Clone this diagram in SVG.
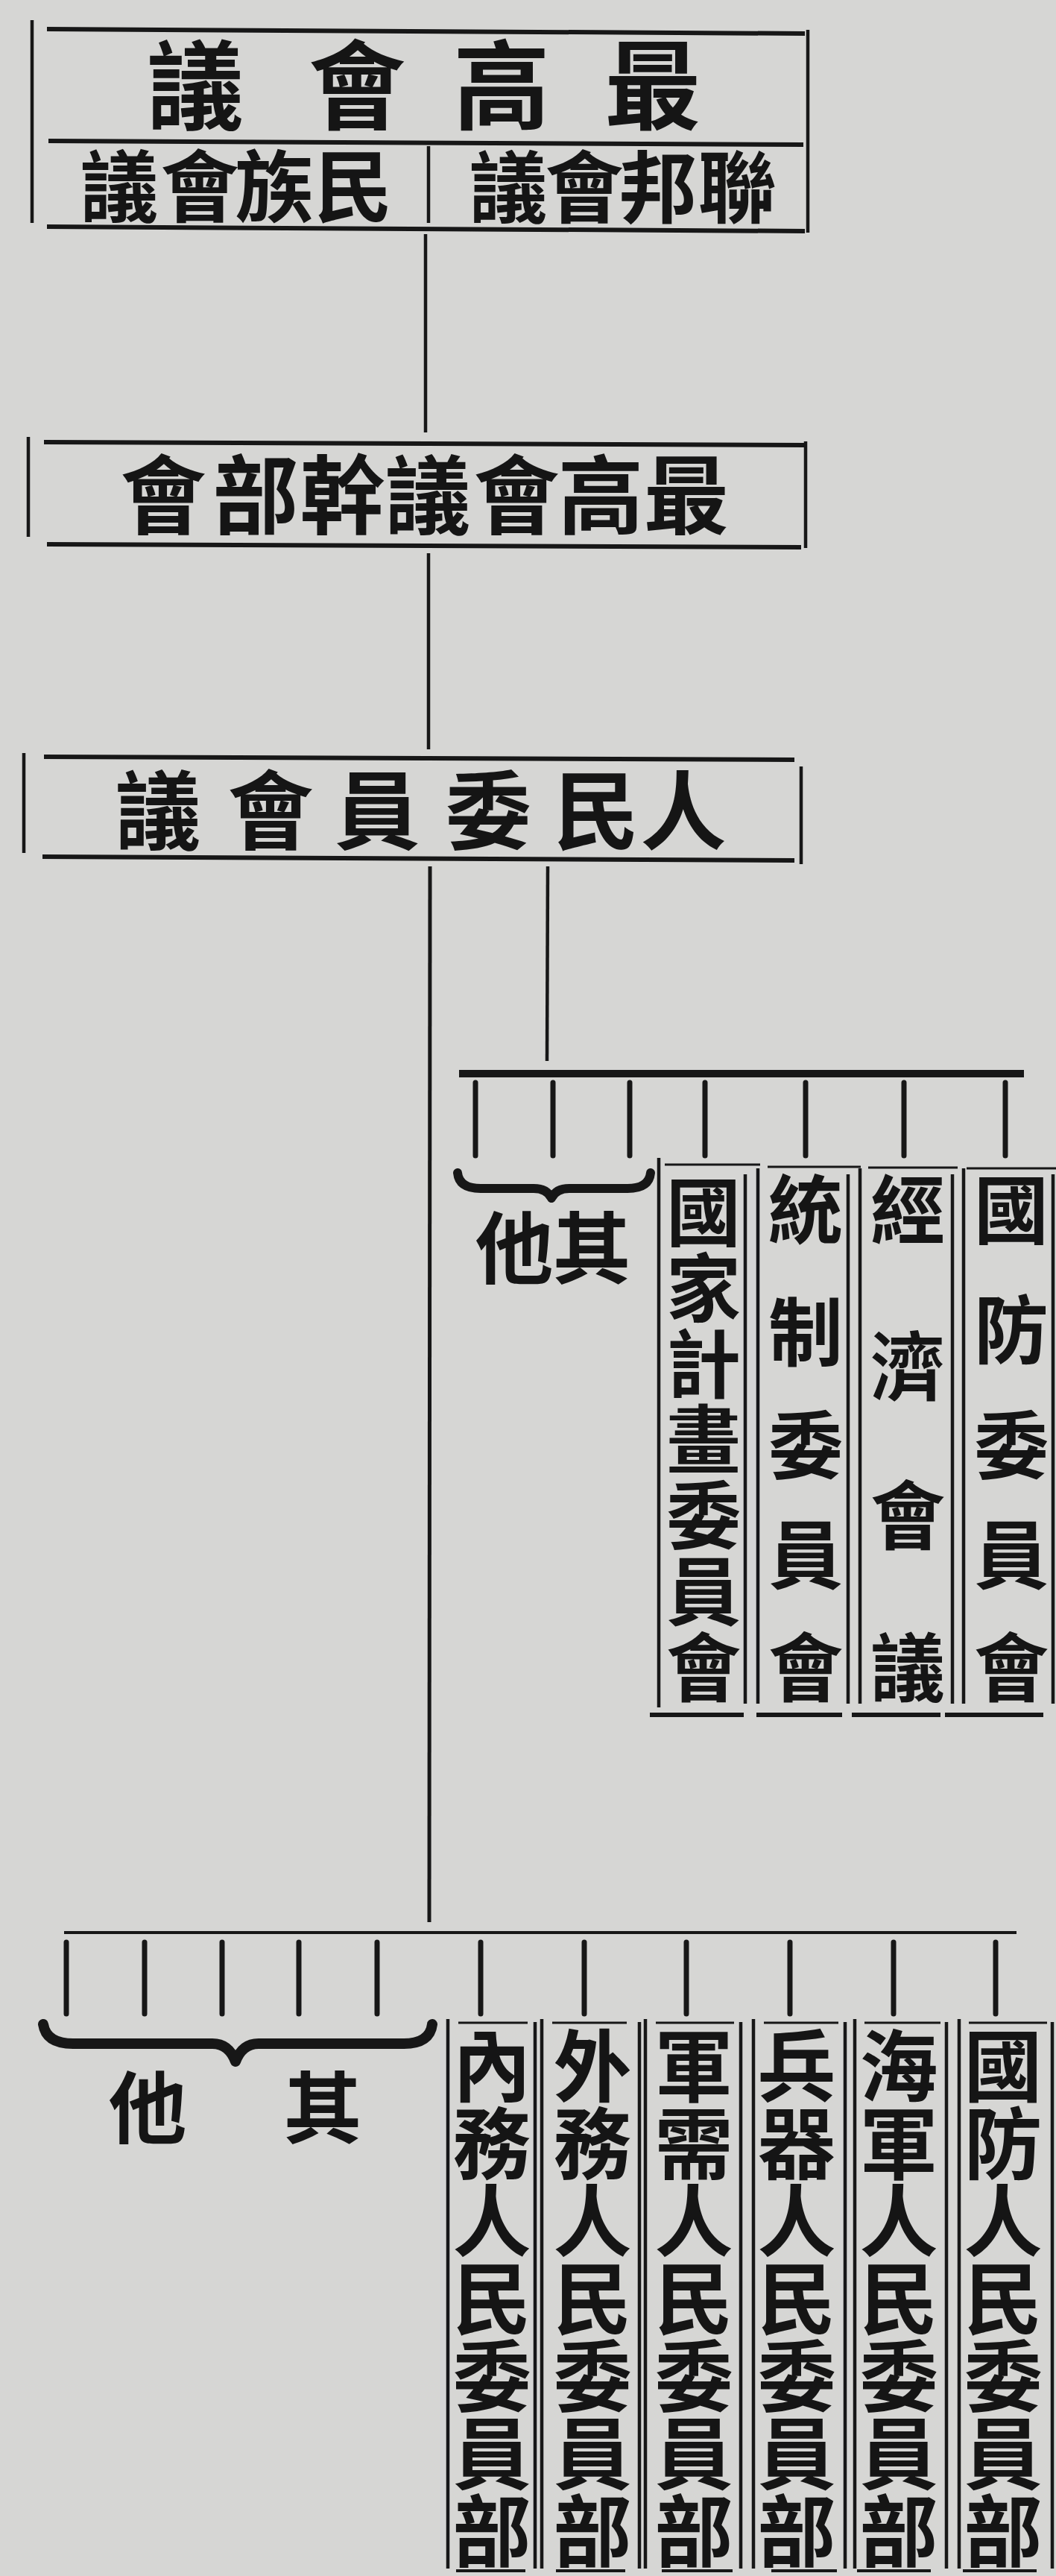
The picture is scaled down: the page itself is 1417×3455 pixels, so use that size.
<svg xmlns="http://www.w3.org/2000/svg" width="1417" height="3455" viewBox="0 0 1417 3455">
<style>
  .bg { fill: #d6d6d4; }
  .ln { stroke: #171717; fill: none; stroke-linecap: butt; }
  .h { stroke-width: 6; }
  .v { stroke-width: 4.5; }
  .thin { stroke-width: 3; }
  .tick { stroke: #171717; stroke-width: 7; stroke-linecap: round; fill: none; }
  .brace { stroke: #171717; fill: none; stroke-linecap: round; stroke-linejoin: round; }
  text { font-family: "Liberation Sans", "Noto Sans CJK TC", "Noto Sans CJK JP", sans-serif; font-weight: 700; fill: #151515; text-anchor: middle; }
  .t130 { font-size: 130px; }
  .t115 { font-size: 115px; }
  .t105 { font-size: 105px; }
  .t100 { font-size: 100px; }
</style>
<rect class="bg" x="0" y="0" width="1417" height="3455"/>

<g id="connectors">
  <line class="ln v" x1="571" y1="314" x2="571" y2="580"/>
  <line class="ln v" x1="575" y1="742" x2="575" y2="1005"/>
  <line class="ln" stroke-width="5" x1="577" y1="1162" x2="576" y2="2578"/>
  <line class="ln v" x1="735" y1="1162" x2="734" y2="1423"/>
  <!-- upper distribution bar -->
  <line class="ln" stroke-width="10" stroke-linecap="round" x1="616" y1="1440" x2="1374" y2="1440"/>
  <g>
    <line class="tick" x1="638" y1="1452" x2="638" y2="1550"/>
    <line class="tick" x1="742" y1="1452" x2="742" y2="1550"/>
    <line class="tick" x1="845" y1="1452" x2="845" y2="1550"/>
    <line class="tick" x1="946" y1="1452" x2="946" y2="1550"/>
    <line class="tick" x1="1081" y1="1452" x2="1081" y2="1550"/>
    <line class="tick" x1="1213" y1="1452" x2="1213" y2="1550"/>
    <line class="tick" x1="1349" y1="1452" x2="1349" y2="1550"/>
  </g>
  <!-- lower distribution bar -->
  <line class="ln" stroke-width="4" x1="86" y1="2592" x2="1364" y2="2592"/>
  <g>
    <line class="tick" x1="89" y1="2605" x2="89" y2="2701"/>
    <line class="tick" x1="194" y1="2605" x2="194" y2="2701"/>
    <line class="tick" x1="298" y1="2605" x2="298" y2="2701"/>
    <line class="tick" x1="401" y1="2605" x2="401" y2="2701"/>
    <line class="tick" x1="506" y1="2605" x2="506" y2="2701"/>
    <line class="tick" x1="645" y1="2605" x2="645" y2="2701"/>
    <line class="tick" x1="784" y1="2605" x2="784" y2="2701"/>
    <line class="tick" x1="921" y1="2605" x2="921" y2="2701"/>
    <line class="tick" x1="1060" y1="2605" x2="1060" y2="2701"/>
    <line class="tick" x1="1199" y1="2605" x2="1199" y2="2701"/>
    <line class="tick" x1="1336" y1="2605" x2="1336" y2="2701"/>
  </g>
</g>

<g id="supreme-council">
  <line class="ln v" x1="43" y1="27" x2="43" y2="299"/>
  <line class="ln h" x1="63" y1="39" x2="1080" y2="45"/>
  <line class="ln h" x1="65" y1="189" x2="1078" y2="194"/>
  <line class="ln h" x1="63" y1="304" x2="1080" y2="310"/>
  <line class="ln v" x1="1084" y1="40" x2="1084" y2="312"/>
  <line class="ln v" x1="575" y1="196" x2="575" y2="299"/>
  <text class="t130" x="262 479 673 876" y="163">議會高最</text>
  <g id="nationalities-council">
    <text class="t105" x="160 268 368 474" y="289">議會族民</text>
  </g>
  <g id="union-council">
    <text class="t105" x="682 784 883 989" y="290">議會邦聯</text>
  </g>
</g>

<g id="presidium">
  <line class="ln v" x1="38" y1="586" x2="38" y2="720"/>
  <line class="ln h" x1="59" y1="593" x2="1080" y2="597"/>
  <line class="ln h" x1="63" y1="730" x2="1075" y2="734"/>
  <line class="ln v" x1="1081" y1="592" x2="1081" y2="735"/>
  <text class="t115" x="219 343 460 574 693 806 921" y="707">會部幹議會高最</text>
</g>

<g id="council-of-peoples-commissars">
  <line class="ln v" x1="32" y1="1010" x2="32" y2="1144"/>
  <line class="ln h" x1="59" y1="1015" x2="1066" y2="1019"/>
  <line class="ln h" x1="57" y1="1149" x2="1066" y2="1154"/>
  <line class="ln v" x1="1075" y1="1028" x2="1075" y2="1159"/>
  <text class="t115" x="212 363 506 655 800 917" y="1130">議會員委民人</text>
</g>

<g id="upper-others">
  <path class="brace" stroke-width="12" d="M614,1573 Q616,1594 645,1594 L716,1594 Q734,1594 740,1607 Q746,1594 764,1594 L842,1594 Q871,1594 873,1573"/>
  <text class="t105" x="690 794" y="1713">他其</text>
</g>

<g id="state-planning-commission">
  <line class="ln v" x1="884" y1="1553" x2="884" y2="2290"/>
  <line class="ln v" x1="1000" y1="1575" x2="1000" y2="2285"/>
  <line class="ln thin" x1="892" y1="1562" x2="1020" y2="1562"/>
  <line class="ln h" x1="872" y1="2300" x2="998" y2="2300"/>
  <text class="t100" x="944 944 944 944 944 944 944" y="1663 1765 1867 1968 2070 2172 2274">國家計畫委員會</text>
</g>

<g id="control-commission">
  <line class="ln v" x1="1017" y1="1567" x2="1017" y2="2285"/>
  <line class="ln v" x1="1138" y1="1575" x2="1138" y2="2285"/>
  <line class="ln thin" x1="1030" y1="1565" x2="1155" y2="1565"/>
  <line class="ln h" x1="1015" y1="2300" x2="1130" y2="2300"/>
  <text class="t100" x="1081 1081 1081 1081 1081" y="1660 1824 1976 2123 2274">統制委員會</text>
</g>

<g id="economic-council">
  <line class="ln v" x1="1154" y1="1567" x2="1154" y2="2285"/>
  <line class="ln v" x1="1278" y1="1575" x2="1278" y2="2285"/>
  <line class="ln thin" x1="1165" y1="1566" x2="1285" y2="1566"/>
  <line class="ln h" x1="1143" y1="2300" x2="1262" y2="2300"/>
  <text class="t100" x="1218 1218 1218 1218" y="1660 1870 2070 2274">經濟會議</text>
</g>

<g id="defence-committee">
  <line class="ln v" x1="1293" y1="1567" x2="1293" y2="2285"/>
  <line class="ln v" x1="1413" y1="1575" x2="1413" y2="2285"/>
  <line class="ln thin" x1="1297" y1="1567" x2="1417" y2="1567"/>
  <line class="ln h" x1="1268" y1="2300" x2="1400" y2="2300"/>
  <text class="t100" x="1357 1357 1357 1357 1357" y="1660 1821 1976 2123 2274">國防委員會</text>
</g>

<g id="lower-others">
  <path class="brace" stroke-width="14" d="M58,2715 Q62,2741 98,2741 L285,2741 Q307,2741 316,2765 Q325,2741 347,2741 L542,2741 Q577,2741 580,2715"/>
  <text class="t105" x="198 433" y="2866">他其</text>
</g>

<g id="internal-affairs">
  <line class="ln v" x1="601" y1="2708" x2="601" y2="3445"/>
  <line class="ln v" x1="718" y1="2712" x2="718" y2="3445"/>
  <line class="ln thin" x1="615" y1="2713" x2="708" y2="2713"/>
  <line class="ln" stroke-width="4" x1="612" y1="3448" x2="705" y2="3448"/>
  <text class="t105" x="660 660 660 660 660 660 660" y="2810 2914 3018 3122 3226 3330 3434">內務人民委員部</text>
</g>

<g id="foreign-affairs">
  <line class="ln v" x1="727" y1="2708" x2="727" y2="3445"/>
  <line class="ln v" x1="858" y1="2712" x2="858" y2="3445"/>
  <line class="ln thin" x1="741" y1="2713" x2="841" y2="2713"/>
  <line class="ln" stroke-width="4" x1="746" y1="3448" x2="839" y2="3448"/>
  <text class="t105" x="795 795 795 795 795 795 795" y="2810 2914 3018 3122 3226 3330 3434">外務人民委員部</text>
</g>

<g id="munitions">
  <line class="ln v" x1="866" y1="2708" x2="866" y2="3445"/>
  <line class="ln v" x1="994" y1="2712" x2="994" y2="3445"/>
  <line class="ln thin" x1="880" y1="2713" x2="985" y2="2713"/>
  <line class="ln" stroke-width="4" x1="888" y1="3448" x2="983" y2="3448"/>
  <text class="t105" x="931 931 931 931 931 931 931" y="2810 2914 3018 3122 3226 3330 3434">軍需人民委員部</text>
</g>

<g id="armaments">
  <line class="ln v" x1="1011" y1="2708" x2="1011" y2="3445"/>
  <line class="ln v" x1="1134" y1="2712" x2="1134" y2="3445"/>
  <line class="ln thin" x1="1025" y1="2713" x2="1125" y2="2713"/>
  <line class="ln" stroke-width="4" x1="1035" y1="3448" x2="1123" y2="3448"/>
  <text class="t105" x="1069 1069 1069 1069 1069 1069 1069" y="2810 2914 3018 3122 3226 3330 3434">兵器人民委員部</text>
</g>

<g id="navy">
  <line class="ln v" x1="1147" y1="2708" x2="1147" y2="3445"/>
  <line class="ln v" x1="1270" y1="2712" x2="1270" y2="3445"/>
  <line class="ln thin" x1="1160" y1="2713" x2="1262" y2="2713"/>
  <line class="ln" stroke-width="4" x1="1150" y1="3448" x2="1249" y2="3448"/>
  <text class="t105" x="1206 1206 1206 1206 1206 1206 1206" y="2810 2914 3018 3122 3226 3330 3434">海軍人民委員部</text>
</g>

<g id="defence">
  <line class="ln v" x1="1287" y1="2708" x2="1287" y2="3445"/>
  <line class="ln v" x1="1412" y1="2712" x2="1412" y2="3445"/>
  <line class="ln thin" x1="1300" y1="2713" x2="1405" y2="2713"/>
  <line class="ln" stroke-width="4" x1="1292" y1="3448" x2="1391" y2="3448"/>
  <text class="t105" x="1346 1346 1346 1346 1346 1346 1346" y="2810 2914 3018 3122 3226 3330 3434">國防人民委員部</text>
</g>
</svg>
